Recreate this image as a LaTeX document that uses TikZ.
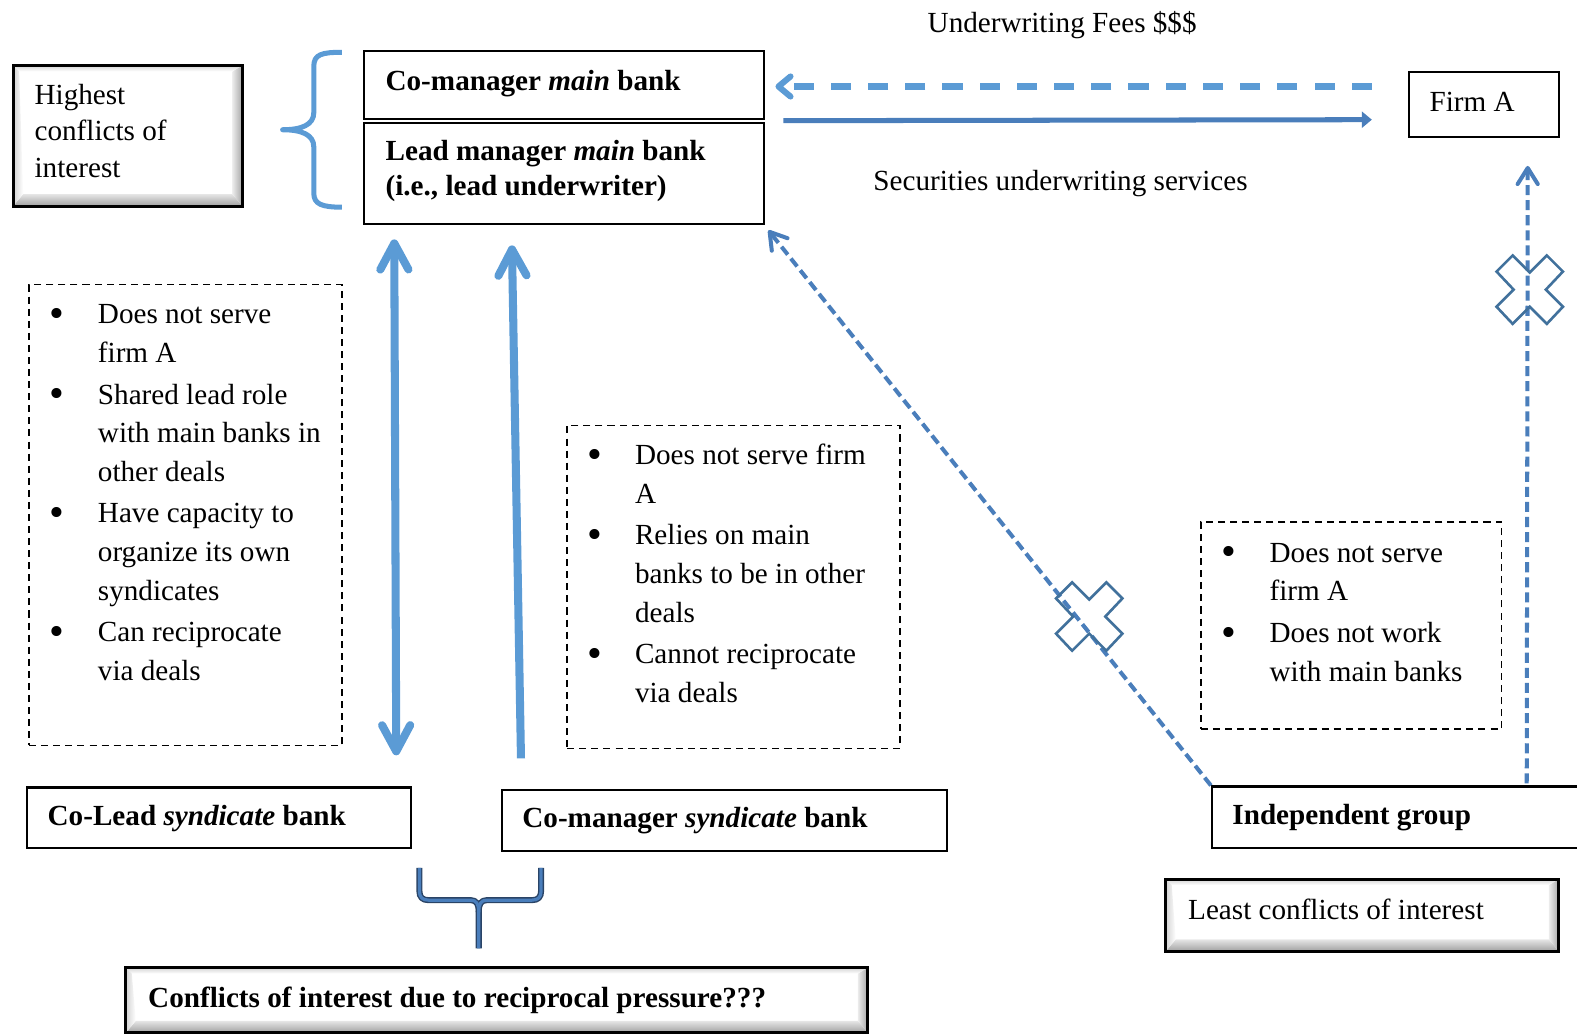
\documentclass[tikz,border=0pt]{standalone}
\usepackage{fontspec}
\setmainfont{Liberation Serif}
\usetikzlibrary{arrows.meta,calc,fit}
\definecolor{lblue}{HTML}{5B9BD5}
\definecolor{mblue}{HTML}{4A7EBB}
\definecolor{dblue}{HTML}{41719C}
\definecolor{navy}{HTML}{2A4466}
\newcommand{\mycross}[1]{%
  \draw[dblue, line width=1.3pt, line join=miter, shift={#1}]
    (-33,-18) -- (-17,-34) -- (0,-17) -- (17,-34) -- (33,-18) -- (16,0) --
    (33,17) -- (17,34) -- (0,17) -- (-17,34) -- (-33,17) -- (-16,0) -- cycle;}
\newcommand{\mybul}{\raisebox{-1.8pt}{\scalebox{1.45}{\textbullet}}}
\begin{document}
\begin{tikzpicture}[x=0.5pt,y=-0.5pt,
  font=\fontsize{14.5}{19.2}\selectfont,
  plainbox/.style={draw, line width=1pt, fill=white, inner sep=0pt},
  dashbox/.style={draw, dash pattern=on 3.5pt off 2.5pt, line width=0.75pt, inner sep=0pt},
  bevelbox/.style={draw, line width=1.5pt, fill=white, inner sep=0pt, path picture={
    \coordinate (bsw) at (path picture bounding box.south west);
    \coordinate (bne) at (path picture bounding box.north east);
    \coordinate (bnw) at (path picture bounding box.north west);
    \coordinate (bse) at (path picture bounding box.south east);
    \shade[top color=gray!20, bottom color=gray!75] ($(bsw)+(5pt,6pt)$) -- (bsw) -- (bse) -- ($(bse)+(-5pt,6pt)$) -- cycle;
    \shade[left color=gray!15, right color=gray!70] ($(bne)+(-5pt,-3pt)$) -- (bne) -- (bse) -- ($(bse)+(-5pt,6pt)$) -- cycle;
    \shade[top color=gray!35, bottom color=white] (bnw) -- (bne) -- ($(bne)+(-5pt,-3pt)$) -- ($(bnw)+(3pt,-3pt)$) -- cycle;
    \shade[left color=gray!35, right color=white] (bnw) -- ($(bnw)+(3pt,-3pt)$) -- ($(bsw)+(5pt,6pt)$) -- (bsw) -- cycle;
  }},
  txt/.style={anchor=base west, inner sep=0pt},
  thickarrow/.style={lblue, line width=4pt},
  bigbarb/.tip={Straight Barb[length=13pt,width=14pt,round]},
  dasharrow/.style={mblue, line width=2pt, dash pattern=on 5pt off 2.5pt}
]
\useasboundingbox (0,0) rectangle (1568,1028);

% boxes
\node[bevelbox, fit={(13,65) (241,205)}] (hi) {};
\node[plainbox, fit={(362,51) (760,118)}] (cmm) {};
\node[plainbox, fit={(362,122) (760,223)}] (lead) {};
\node[plainbox, fit={(1401,72) (1550,136)}] (firm) {};
\node[dashbox, fit={(29,283) (340,741)}] (d1) {};
\node[dashbox, fit={(564,423) (895,744)}] (d2) {};
\node[dashbox, fit={(1194,519) (1493,725)}] (d3) {};
\node[plainbox, fit={(27,783) (409,843)}] (colead) {};
\node[plainbox, fit={(499,785) (942,846)}] (cmsyn) {};
\node[plainbox, fit={(1205,782) (1580,843)}] (indep) {};
\node[bevelbox, fit={(1159,874) (1550,946)}] (least) {};
\node[bevelbox, fit={(125,962) (863,1027)}] (conf) {};

% texts
\node[txt, font=\fontsize{14.5}{18}\selectfont] (thi) at (34,104)
  {\begin{tabular}[t]{@{}l@{}}Highest\\conflicts of\\interest\end{tabular}};
\node[txt] (tcmm) at (383,90) {\bfseries Co-manager \textit{main} bank};
\node[txt, font=\fontsize{14.5}{17}\selectfont\bfseries] (tlead) at (383,160)
  {\begin{tabular}[t]{@{}l@{}}Lead manager \textit{main} bank\\(i.e., lead underwriter)\end{tabular}};
\node[txt] (tfirm) at (1421,111) {Firm A};
\node[txt] (tfees) at (922,32) {Underwriting Fees \$\$\$};
\node[txt] (tserv) at (868,189) {Securities underwriting services};
\node[txt] (l1) at (49,322) {\begin{tabular}[t]{@{}p{24pt}@{}l@{}}
  \mybul & Does not serve\\ & firm A\\[1.5pt]
  \mybul & Shared lead role\\ & with main banks in\\ & other deals\\[1.5pt]
  \mybul & Have capacity to\\ & organize its own\\ & syndicates\\[1.5pt]
  \mybul & Can reciprocate\\ & via deals\end{tabular}};
\node[txt] (l2) at (584,462) {\begin{tabular}[t]{@{}p{23.5pt}@{}l@{}}
  \mybul & Does not serve firm\\ & A\\[1.5pt]
  \mybul & Relies on main\\ & banks to be in other\\ & deals\\[1.5pt]
  \mybul & Cannot reciprocate\\ & via deals\end{tabular}};
\node[txt] (l3) at (1214,559) {\begin{tabular}[t]{@{}p{24pt}@{}l@{}}
  \mybul & Does not serve\\ & firm A\\[1.5pt]
  \mybul & Does not work\\ & with main banks\end{tabular}};
\node[txt] (tcolead) at (47,821) {\bfseries Co-Lead \textit{syndicate} bank};
\node[txt] (tcmsyn) at (519,823) {\bfseries Co-manager \textit{syndicate} bank};
\node[txt] (tindep) at (1225,820) {\bfseries Independent group};
\node[txt] (tleast) at (1181,914) {Least conflicts of interest};
\node[txt] (tconf) at (147,1002) {\bfseries Conflicts of interest due to reciprocal pressure???};

% top brace
\draw[lblue, line width=2.5pt, line join=round]
  (340,52) .. controls (320,52) and (312,54) .. (312,66) -- (312,112)
  .. controls (312,124) and (300,129) .. (281,129)
  .. controls (300,129) and (312,134) .. (312,146) -- (312,192)
  .. controls (312,203) and (320,206) .. (340,206);

% bottom brace
\foreach \w/\c in {3pt/navy, 1.6pt/mblue}{
  \draw[\c, line width=\w, line join=round]
    (417,863) -- (417,886) .. controls (417,892) and (420,895) .. (426,895) -- (468,895)
    .. controls (474,895) and (476,899) .. (476,907) -- (476,943);
  \draw[\c, line width=\w, line join=round]
    (538,863) -- (538,886) .. controls (538,892) and (535,895) .. (529,895) -- (484,895)
    .. controls (478,895) and (476,899) .. (476,907);
}

% top arrows
\draw[lblue, line width=3pt, dash pattern=on 10pt off 8.5pt, -{Straight Barb[length=6pt,width=10pt,round]}]
  ($(firm.west)+(-36,-18)$) -- ($(cmm.east)+(10,1.5)$);
\draw[mblue, line width=2.5pt, -{Triangle[length=5pt,width=8pt]}]
  ($(cmm.south east)+(18,1)$) -- ($(firm.west)+(-36,15)$);

% vertical thick arrows
\draw[thickarrow, bigbarb-bigbarb]
  ($(colead.north east)+(-16,-31)$) -- ($(lead.south west)+(31,14)$);
\draw[thickarrow, -bigbarb]
  ($(cmsyn.north west)+(20,-30)$) -- ($(lead.south west)+(148,20)$);

% dashed arrows from independent group
\draw[dasharrow, -{Straight Barb[length=8pt,width=10pt,round]}]
  (indep.north west) -- ($(lead.south east)+(3,5)$);
\draw[dasharrow, -{Straight Barb[length=8pt,width=10pt,round]}]
  ($(indep.north west)+(314,-2)$) -- ($(firm.south)+(43.5,28)$);

% cross marks
\mycross{(1083,613)}
\mycross{(1521,288)}
\end{tikzpicture}
\end{document}
